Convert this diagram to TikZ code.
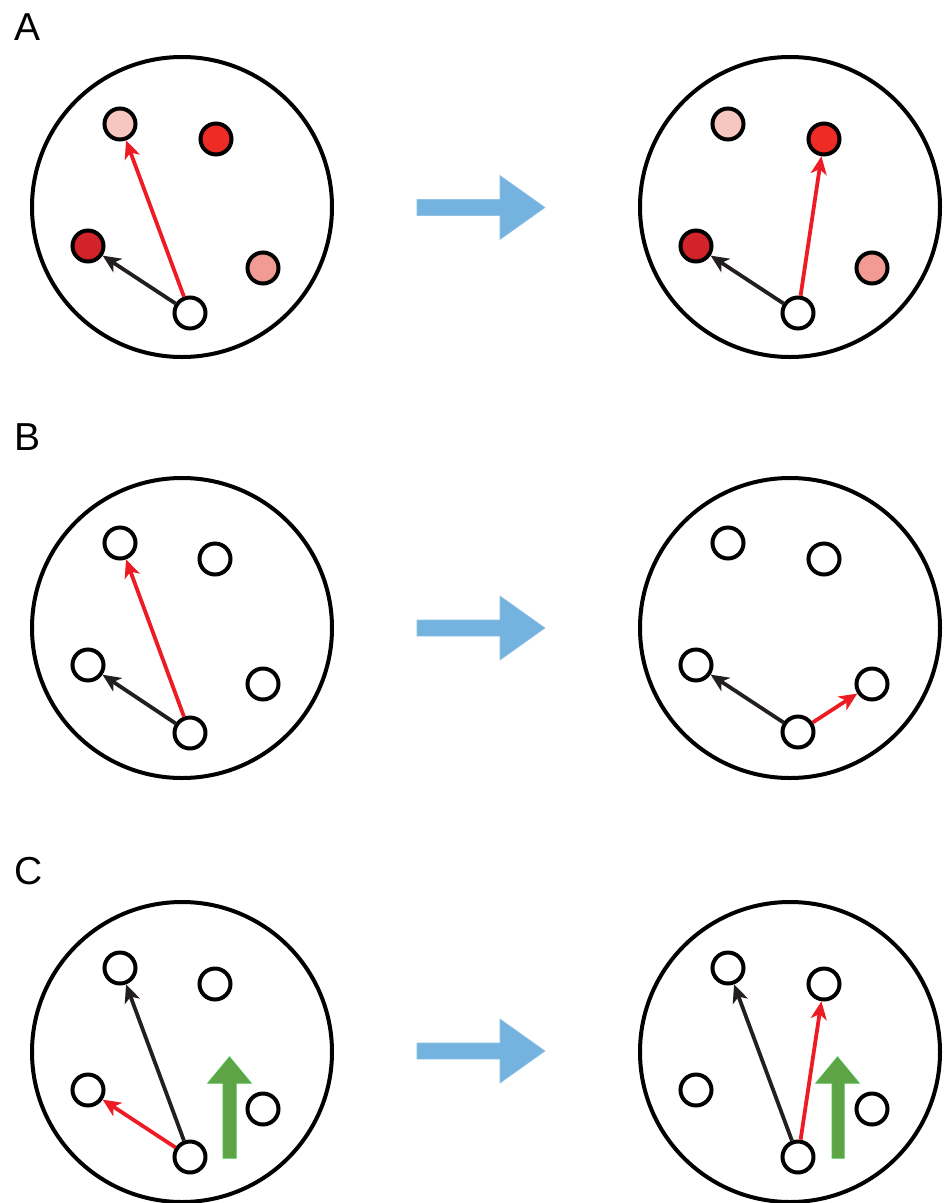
\documentclass[tikz,border=0pt]{standalone}
\usepackage{fontspec}
\setmainfont{Liberation Sans}
\usetikzlibrary{arrows.meta}
\definecolor{dotpink}{HTML}{F8C6C1}
\definecolor{dotred}{HTML}{EE2B24}
\definecolor{dotdark}{HTML}{D2232A}
\definecolor{dotsalmon}{HTML}{F29B94}
\definecolor{linkred}{HTML}{ED1C24}
\definecolor{linkdark}{HTML}{231F20}
\definecolor{stepblue}{HTML}{74B3DF}
\definecolor{pushgreen}{HTML}{5EA345}
\definecolor{pushedge}{HTML}{4DB848}
\tikzset{
  arena/.style={draw=black, line width=4pt},
  dot/.style={circle, draw=black, line width=4pt, minimum size=31pt, inner sep=0pt, fill=white},
  link/.style={line width=3.8pt, -{Stealth[length=18pt,width=16pt,inset=5pt]}},
  redlink/.style={link, draw=linkred},
  blacklink/.style={link, draw=linkdark},
  steparrow/.style={fill=stepblue, draw=stepblue!80!white, line width=0.6pt},
  pusharrow/.style={fill=pushgreen, draw=pushedge, line width=1pt},
  panellabel/.style={anchor=base west, inner sep=0pt, font=\fontsize{39}{41}\selectfont}
}
\begin{document}
\begin{tikzpicture}[x=1pt, y=-1pt]
\useasboundingbox (0,0) rectangle (946,1203);

% panel labels
\node[panellabel] (labA) at (14,40) {A};
\node[panellabel] (labB) at (14,450) {B};
\node[panellabel] (labC) at (14,884) {C};

% ---------- Panel A ----------
\draw[arena] (182,207) circle (150);
\draw[arena] (790,207) circle (150);
\node[dot, fill=dotpink]   (a1) at (120,124) {};
\node[dot, fill=dotred]    (a2) at (216,139) {};
\node[dot, fill=dotdark]   (a3) at (88,246) {};
\node[dot, fill=dotsalmon] (a4) at (263,268) {};
\node[dot]                 (a0) at (190,313) {};
\draw[redlink]   (a0) -- (a1);
\draw[blacklink] (a0) -- (a3);

\node[dot, fill=dotpink]   (A1) at (728,124) {};
\node[dot, fill=dotred]    (A2) at (824,139) {};
\node[dot, fill=dotdark]   (A3) at (696,246) {};
\node[dot, fill=dotsalmon] (A4) at (872,268) {};
\node[dot]                 (A0) at (798,313) {};
\draw[redlink]   (A0) -- (A2);
\draw[blacklink] (A0) -- (A3);

% ---------- Panel B ----------
\draw[arena] (182,628) circle (150);
\draw[arena] (790,628) circle (150);
\node[dot] (b1) at (120,543) {};
\node[dot] (b2) at (215,559) {};
\node[dot] (b3) at (88,665) {};
\node[dot] (b4) at (263,684) {};
\node[dot] (b0) at (190,733) {};
\draw[redlink]   (b0) -- (b1);
\draw[blacklink] (b0) -- (b3);

\node[dot] (B1) at (728,543) {};
\node[dot] (B2) at (824,559) {};
\node[dot] (B3) at (696,665) {};
\node[dot] (B4) at (872,684) {};
\node[dot] (B0) at (798,732) {};
\draw[redlink]   (B0) -- (B4);
\draw[blacklink] (B0) -- (B3);

% ---------- Panel C ----------
\draw[arena] (182,1052) circle (150);
\draw[arena] (790,1052) circle (150);

% upward push arrows
\draw[pusharrow] (223,1158) -- (236,1158) -- (236,1083) -- (251,1083) -- (229.5,1057)
  -- (208,1083) -- (223,1083) -- cycle;
\draw[pusharrow] (832,1158) -- (844,1158) -- (844,1083) -- (859,1083) -- (837.5,1057)
  -- (816,1083) -- (832,1083) -- cycle;

\node[dot] (c1) at (120,968) {};
\node[dot] (c2) at (215,984) {};
\node[dot] (c3) at (88,1090) {};
\node[dot] (c4) at (263,1109) {};
\node[dot] (c0) at (190,1157) {};
\draw[blacklink] (c0) -- (c1);
\draw[redlink]   (c0) -- (c3);

\node[dot] (C1) at (728,968) {};
\node[dot] (C2) at (824,984) {};
\node[dot] (C3) at (696,1090) {};
\node[dot] (C4) at (872,1109) {};
\node[dot] (C0) at (798,1157) {};
\draw[blacklink] (C0) -- (C1);
\draw[redlink]   (C0) -- (C2);

% ---------- step arrows between the two states ----------
\foreach \yc in {207.5, 628, 1051} {
  \begin{scope}[yshift=-\yc pt]
    \draw[steparrow] (417,-8) -- (500,-8) -- (500,-32) -- (545,0) -- (500,32)
      -- (500,8) -- (417,8) -- cycle;
  \end{scope}
}
\end{tikzpicture}
\end{document}
